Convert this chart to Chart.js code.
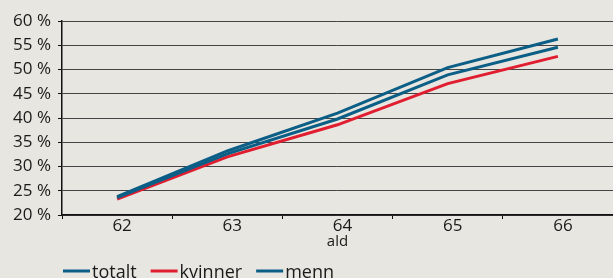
<!DOCTYPE html>
<html>
<head>
<meta charset="utf-8">
<script src="https://cdn.jsdelivr.net/npm/chart.js@4/dist/chart.umd.min.js"></script>
<style>
  html, body { margin: 0; padding: 0; background: #e7e6e0; }
  #wrap { width: 613px; height: 278px; }
</style>
</head>
<body>
<div id="wrap"><canvas id="graph1" width="613" height="278"></canvas></div>
<script>
// chart data
const ages = ['62', '63', '64', '65', '66'];
const totalt = [23.6, 32.6, 39.8, 48.9, 54.6];
const kvinner = [23.3, 32.0, 38.6, 47.1, 52.7];
const menn = [23.8, 33.2, 41.0, 50.4, 56.3];
const yTicks = [20, 25, 30, 35, 40, 45, 50, 55, 60];

const BLUE = '#0b5e86';
const RED = '#e11d30';
const FONT = "'Open Sans', sans-serif";

// fill the canvas background
const bgPlugin = {
  id: 'bg',
  beforeDraw(chart) {
    const c = chart.ctx;
    c.save();
    c.fillStyle = '#e7e6e0';
    c.fillRect(0, 0, chart.width, chart.height);
    c.restore();
  }
};

// simple line legend under the axis (text runs off the bottom like the original)
const lineLegend = {
  id: 'lineLegend',
  afterDraw(chart) {
    const c = chart.ctx;
    let x = chart.chartArea.left + 1;
    const y = 271;
    c.save();
    c.font = '18px ' + FONT;
    c.textBaseline = 'alphabetic';
    chart.data.datasets.forEach(ds => {
      c.fillStyle = ds.borderColor;
      c.fillRect(x, y - 1.5, 27, 3);
      x += 29;
      c.fillStyle = '#1a1a1a';
      c.fillText(ds.label, x, y + 7);
      x += c.measureText(ds.label).width + 14;
    });
    c.restore();
  }
};

const ctx1 = document.getElementById('graph1').getContext('2d');
new Chart(ctx1, {
  type: 'line',
  data: {
    labels: ages,
    datasets: [
      { label: 'totalt', data: totalt, borderColor: BLUE, backgroundColor: BLUE, borderWidth: 3, pointRadius: 0, tension: 0 },
      { label: 'kvinner', data: kvinner, borderColor: RED, backgroundColor: RED, borderWidth: 3, pointRadius: 0, tension: 0 },
      { label: 'menn', data: menn, borderColor: BLUE, backgroundColor: BLUE, borderWidth: 3, pointRadius: 0, tension: 0 }
    ]
  },
  options: {
    responsive: false,
    animation: false,
    events: [],
    layout: { padding: { top: 21, right: 0, bottom: 26, left: 0 } },
    plugins: {
      legend: { display: false },
      tooltip: { enabled: false }
    },
    scales: {
      x: {
        offset: true,
        grid: { offset: true, drawOnChartArea: false, drawTicks: true, tickLength: 4, color: '#111' },
        border: { color: '#111', width: 1.5 },
        ticks: { color: '#1a1a1a', font: { family: FONT, size: 17 }, padding: -3, labelOffset: 5 },
        title: { display: true, text: 'ald', color: '#1a1a1a', font: { family: FONT, size: 15 }, padding: { top: 0, bottom: 1 } },
        afterFit: scale => { scale.height = 37; }
      },
      y: {
        min: 20,
        max: 60,
        afterBuildTicks: scale => { scale.ticks = yTicks.map(v => ({ value: v })); },
        grid: { color: '#444', lineWidth: 1, tickLength: 4, tickColor: '#111' },
        border: { color: '#111', width: 1.5 },
        ticks: { color: '#1a1a1a', font: { family: FONT, size: 17 }, padding: 7, callback: v => v + ' %' },
        afterFit: scale => { scale.width = 62; }
      }
    }
  },
  plugins: [bgPlugin, lineLegend]
});
</script>
</body>
</html>
